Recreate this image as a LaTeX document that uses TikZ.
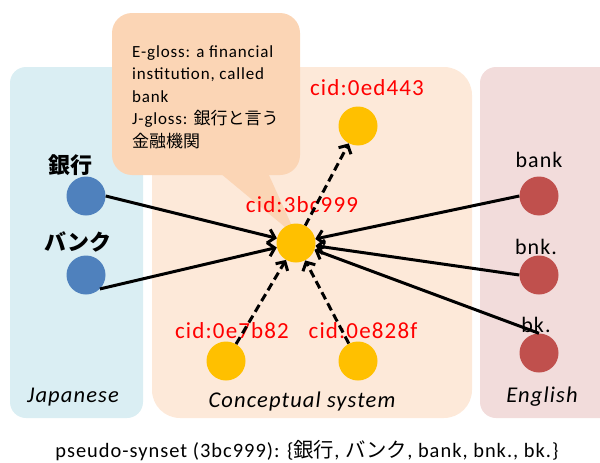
\documentclass[tikz,border=0pt]{standalone}
\usepackage{fontspec}
\setmainfont{Carlito}[LetterSpace=5]
\newfontfamily\jp{Noto Sans CJK JP}
\usetikzlibrary{arrows.meta}
\definecolor{jpbg}{HTML}{DAEEF3}
\definecolor{cbg}{HTML}{FDE9D9}
\definecolor{enbg}{HTML}{F2DCDB}
\definecolor{callbg}{HTML}{FBD5B5}
\definecolor{jpblue}{HTML}{4F81BD}
\definecolor{enred}{HTML}{C0504D}
\definecolor{cyel}{HTML}{FFC000}
\tikzset{
  circ/.style={circle, minimum size=39pt, inner sep=0pt, draw=none},
  arr/.style={line width=3pt, -{Straight Barb[length=6.5pt,width=14pt,line width=3pt]}},
  darr/.style={arr, dash pattern=on 8pt off 4.5pt},
  cid/.style={anchor=base, text=red, font=\fontsize{23}{26}\selectfont},
  wlabel/.style={anchor=base, font=\fontsize{22}{26}\selectfont},
  jlabel/.style={anchor=base, font=\fontsize{22}{26}\selectfont\jp\bfseries},
  panellabel/.style={anchor=base, font=\fontsize{22.5}{26}\selectfont\itshape},
  gloss/.style={anchor=base west, inner sep=0pt, font=\fontsize{17}{22}\selectfont}
}
\begin{document}
\begin{tikzpicture}[x=1pt,y=-1pt]
\useasboundingbox (0,0) rectangle (600,463);
\begin{scope}
\clip (0,0) rectangle (600,463);
\fill[jpbg, rounded corners=16pt] (10,67) rectangle (143,418);
\fill[cbg, rounded corners=28pt] (152,67) rectangle (472,418);
\fill[enbg, rounded corners=16pt] (480,67) rectangle (625,418);
\end{scope}
% callout
\fill[callbg, rounded corners=20pt] (112,13) rectangle (300,175);
\fill[callbg] (220,173) -- (297,237) -- (268,173) -- cycle;
\node[gloss] (g1) at (132,57) {E-gloss: a financial};
\node[gloss] (g2) at (132,79.5) {institution, called};
\node[gloss] (g3) at (132,102) {bank};
\node[gloss] (g4) at (132,124.5) {J-gloss: {\jp\addfontfeatures{LetterSpace=0}銀行と言う}};
\node[gloss] (g5) at (132,147) {{\jp 金融機関}};
% circles
\node[circ, fill=jpblue] (jp1) at (86,196) {};
\node[circ, fill=jpblue] (jp2) at (86,275) {};
\node[circ, fill=enred] (en1) at (539,196) {};
\node[circ, fill=enred] (en2) at (539,275) {};
\node[circ, fill=enred] (en3) at (539,353) {};
\node[circ, fill=cyel] (c3) at (296,243) {};
\node[circ, fill=cyel] (c0ed) at (358,126) {};
\node[circ, fill=cyel] (c7b) at (226,361) {};
\node[circ, fill=cyel] (c82) at (358,361) {};
% labels
\node[jlabel] (l1) at (70,173) {銀行};
\node[jlabel] (l2) at (78,250) {バンク};
\node[wlabel] (l3) at (539,167) {bank};
\node[wlabel] (l4) at (536,254) {bnk.};
\node[wlabel] (l5) at (536,332) {bk.};
\node[cid] (k1) at (302,212) {cid:3bc999};
\node[cid] (k2) at (367,95) {cid:0ed443};
\node[cid] (k3) at (232,338) {cid:0e7b82};
\node[cid] (k4) at (363,338) {cid:0e828f};
\node[panellabel] (p1) at (73,402) {Japanese};
\node[panellabel] (p2) at (302,407) {Conceptual system};
\node[panellabel] (p3) at (542,402) {English};
% connectors
\draw[arr] (jp1.east) -- (c3);
\draw[arr] (jp2.-45) -- (c3);
\draw[arr] (en1.west) -- (c3);
\draw[arr] (en2.west) -- (c3);
\draw[arr] (en3.north) -- (c3);
\draw[darr] (c3) -- (c0ed);
\draw[darr] (c7b) -- (c3);
\draw[darr] (c82) -- (c3);
% bottom
\node[anchor=base, font=\fontsize{20.4}{24}\selectfont] (syn) at (307,457) {pseudo-synset (3bc999): \{{\jp 銀行}, {\jp バンク}, bank, bnk., bk.\}};
\end{tikzpicture}
\end{document}
